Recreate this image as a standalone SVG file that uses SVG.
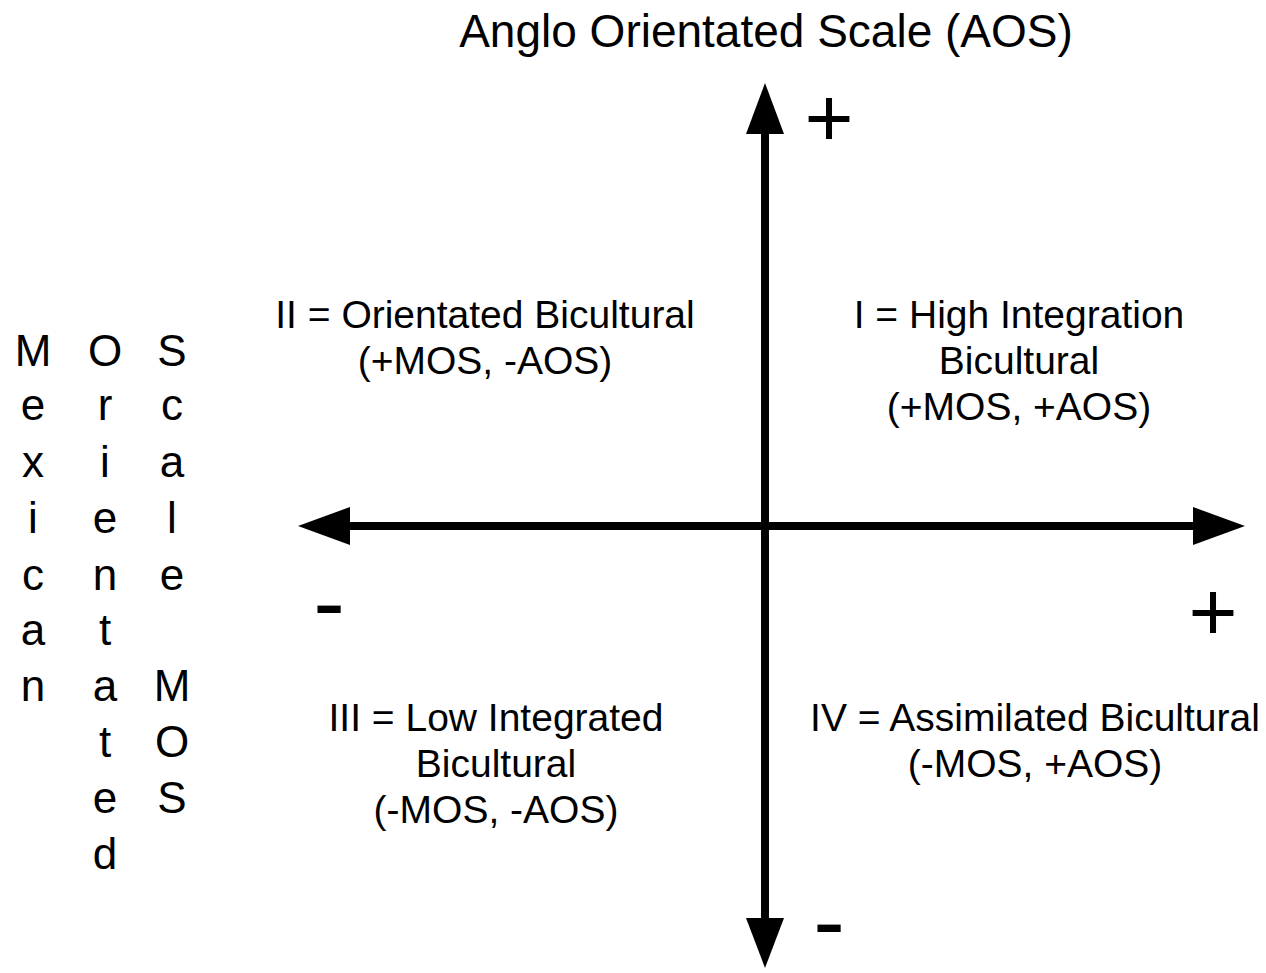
<svg xmlns="http://www.w3.org/2000/svg" width="1266" height="973" viewBox="0 0 1266 973">
  <style>
    text { font-family: "Liberation Sans", Arial, Helvetica, sans-serif; fill: #000; }
    .title { font-size: 46px; text-anchor: middle; }
    .quad { font-size: 39px; text-anchor: middle; }
    .axisletter { font-size: 44px; text-anchor: middle; }
    .plus { font-size: 84px; text-anchor: middle; }
    .minus { font-size: 95px; text-anchor: middle; }
    .axis { stroke: #000; stroke-width: 8; fill: none; }
    .head { fill: #000; }
  </style>

  <rect width="1266" height="973" fill="#fff"/>

  <!-- axes with arrowheads at both ends -->
  <g id="connectors">
    <line class="axis" x1="765" y1="130" x2="765" y2="922"/>
    <polygon class="head" points="765,83 746,134 784,134"/>
    <polygon class="head" points="765,968 746,918 784,918"/>
    <line class="axis" x1="346" y1="526" x2="1197" y2="526"/>
    <polygon class="head" points="298,526 350,507 350,545"/>
    <polygon class="head" points="1245,526 1193,507 1193,545"/>
  </g>

  <!-- axis titles -->
  <g id="aos-title">
    <text class="title" x="766" y="47">Anglo Orientated Scale (AOS)</text>
  </g>

  <!-- vertical axis title: one letter per row, three columns -->
  <g id="mos-title">
    <text class="axisletter"><tspan x="33" y="366">M</tspan><tspan x="33" y="420">e</tspan><tspan x="33" y="477">x</tspan><tspan x="33" y="533">i</tspan><tspan x="33" y="590">c</tspan><tspan x="33" y="645">a</tspan><tspan x="33" y="701">n</tspan></text>
    <text class="axisletter"><tspan x="105" y="366">O</tspan><tspan x="105" y="420">r</tspan><tspan x="105" y="477">i</tspan><tspan x="105" y="533">e</tspan><tspan x="105" y="590">n</tspan><tspan x="105" y="645">t</tspan><tspan x="105" y="701">a</tspan><tspan x="105" y="757">t</tspan><tspan x="105" y="813">e</tspan><tspan x="105" y="869">d</tspan></text>
    <text class="axisletter"><tspan x="172" y="366">S</tspan><tspan x="172" y="420">c</tspan><tspan x="172" y="477">a</tspan><tspan x="172" y="533">l</tspan><tspan x="172" y="590">e</tspan><tspan x="172" y="701">M</tspan><tspan x="172" y="757">O</tspan><tspan x="172" y="813">S</tspan></text>
  </g>

  <!-- axis end signs -->
  <g id="signs">
    <text class="plus" x="829" y="146">+</text>
    <text class="plus" x="1213" y="640">+</text>
    <text class="minus" x="329" y="634">-</text>
    <text class="minus" x="829" y="953">-</text>
  </g>

  <!-- quadrant labels -->
  <g id="quadrant-1">
    <text class="quad" x="1019" y="328">I = High Integration</text>
    <text class="quad" x="1019" y="374">Bicultural</text>
    <text class="quad" x="1019" y="420">(+MOS, +AOS)</text>
  </g>
  <g id="quadrant-2">
    <text class="quad" x="485" y="328">II = Orientated Bicultural</text>
    <text class="quad" x="485" y="374">(+MOS, -AOS)</text>
  </g>
  <g id="quadrant-3">
    <text class="quad" x="496" y="731">III = Low Integrated</text>
    <text class="quad" x="496" y="777">Bicultural</text>
    <text class="quad" x="496" y="823">(-MOS, -AOS)</text>
  </g>
  <g id="quadrant-4">
    <text class="quad" x="1035" y="731">IV = Assimilated Bicultural</text>
    <text class="quad" x="1035" y="777">(-MOS, +AOS)</text>
  </g>
</svg>
